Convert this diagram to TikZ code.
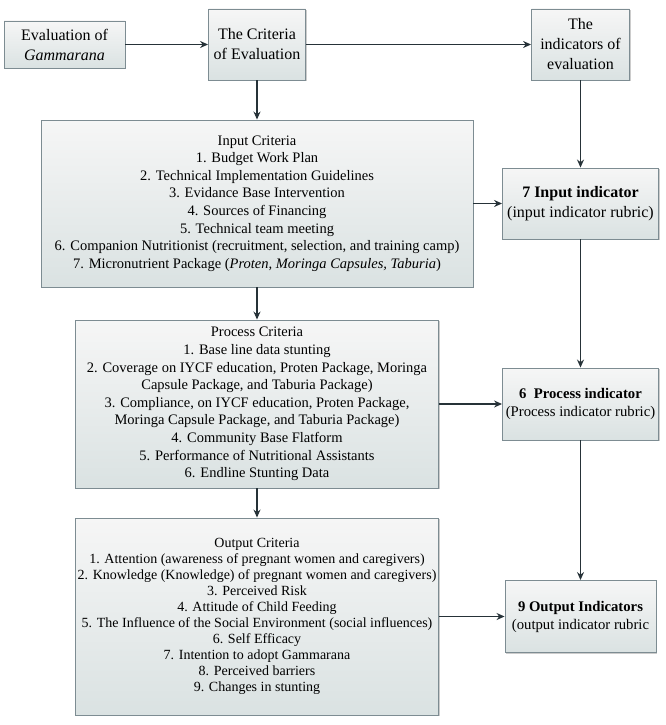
\documentclass[tikz,border=0pt]{standalone}
\usepackage{fontspec}
\setmainfont{Liberation Serif}
\usetikzlibrary{arrows.meta,shadows}
\definecolor{boxline}{HTML}{7D8C92}
\definecolor{boxtop}{HTML}{F6F6F6}
\definecolor{boxbot}{HTML}{DAE2E2}
\definecolor{arrowcol}{HTML}{263238}

\begin{document}
\begin{tikzpicture}[x=1pt,y=-1pt,
  box/.style={draw=boxline,line width=0.9pt,top color=boxtop,bottom color=boxbot,
    drop shadow={shadow xshift=1.2pt,shadow yshift=-1.2pt,fill=black!40,opacity=.5},
    align=center,inner sep=2pt},
  bigtext/.style={font=\fontsize{16}{20}\selectfont},
  midtext/.style={font=\fontsize{14.7}{18}\selectfont},
  smalltext/.style={font=\fontsize{14.5}{17.6}\selectfont},
  outtext/.style={font=\fontsize{14}{16}\selectfont},
  arr/.style={-{Stealth[length=8pt,width=7pt]},line width=1.3pt,draw=arrowcol}]
\useasboundingbox (0,0) rectangle (666,725);

% top row
\node[box,bigtext,minimum width=121pt,minimum height=47pt] (gam) at (64.5,44.5) {Evaluation of\\\textit{Gammarana}};
\node[box,bigtext,minimum width=97pt,minimum height=71pt] (crit) at (257,44.5) {The Criteria\\of Evaluation};
\node[box,bigtext,minimum width=98pt,minimum height=71pt] (ind) at (580.5,44.5) {The\\indicators of\\evaluation};

% criteria column
\node[box,smalltext,minimum width=432pt,minimum height=167pt] (inc) at (257,203.5) {Input Criteria\\
  1. Budget Work Plan\\
  2. Technical Implementation Guidelines\\
  3. Evidance Base Intervention\\
  4. Sources of Financing\\
  5. Technical team meeting\\
  6. Companion Nutritionist (recruitment, selection, and training camp)\\
  7. Micronutrient Package (\textit{Proten, Moringa Capsules, Taburia})};
\node[box,smalltext,minimum width=363pt,minimum height=168pt] (prc) at (257,404) {Process Criteria\\
  1. Base line data stunting\\
  2. Coverage on IYCF education, Proten Package, Moringa\\
  Capsule Package, and Taburia Package)\\
  3. Compliance, on IYCF education, Proten Package,\\
  Moringa Capsule Package, and Taburia Package)\\
  4. Community Base Flatform\\
  5. Performance of Nutritional Assistants\\
  6. Endline Stunting Data};
\node[box,outtext,minimum width=363pt,minimum height=197pt] (outc) at (257,616.5) {Output Criteria\\
  1. Attention (awareness of pregnant women and caregivers)\\
  2. Knowledge (Knowledge) of pregnant women and caregivers)\\
  3. Perceived Risk\\
  4. Attitude of Child Feeding\\
  5. The Influence of the Social Environment (social influences)\\
  6. Self Efficacy\\
  7. Intention to adopt Gammarana\\
  8. Perceived barriers\\
  9. Changes in stunting};

% indicator column
\node[box,bigtext,minimum width=156pt,minimum height=71pt] (inind) at (580.5,203.5) {\textbf{7 Input indicator}\\(input indicator rubric)};
\node[box,midtext,minimum width=156pt,minimum height=72pt] (prind) at (580.5,404) {\textbf{6~ Process indicator}\\(Process indicator rubric)};
\node[box,midtext,minimum width=151pt,minimum height=72pt] (outind) at (580.5,616.5) {\textbf{9 Output Indicators}\\(output indicator rubric};

\draw[arr] (gam) -- (crit);
\draw[arr] (crit) -- (ind);
\draw[arr] (crit) -- (inc);
\draw[arr] (inc) -- (prc);
\draw[arr] (prc) -- (outc);
\draw[arr] (ind) -- (inind);
\draw[arr] (inind) -- (prind);
\draw[arr] (prind) -- (outind);
\draw[arr] (inc) -- (inind);
\draw[arr] (prc) -- (prind);
\draw[arr] (outc) -- (outind);
\end{tikzpicture}
\end{document}
